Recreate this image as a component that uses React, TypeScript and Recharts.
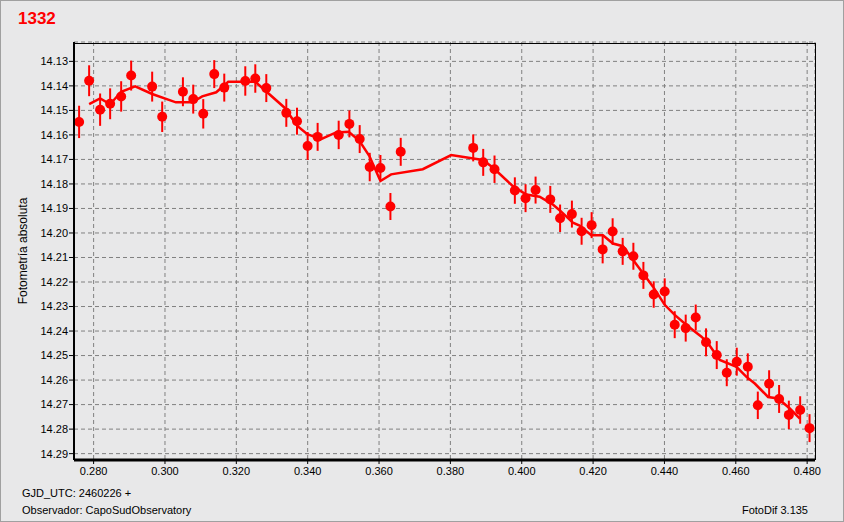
import {
  ComposedChart,
  Scatter,
  Line,
  XAxis,
  YAxis,
  CartesianGrid,
  ErrorBar,
} from "recharts";

// fotometria: tiempo (fraccion GJD), magnitud, error
const times = [
  0.27593, 0.27874, 0.28182, 0.28463, 0.28772, 0.29052, 0.29641, 0.29922,
  0.30503, 0.30792, 0.31073, 0.31381, 0.31662, 0.32251, 0.32532, 0.3284,
  0.33401, 0.33701, 0.33999, 0.34279, 0.34869, 0.35169, 0.35458, 0.35739,
  0.36039, 0.36319, 0.36608, 0.3864, 0.3892, 0.39237, 0.39807, 0.40107,
  0.40388, 0.408, 0.41075, 0.41406, 0.41678, 0.41959, 0.42268, 0.42548,
  0.42829, 0.43129, 0.4341, 0.43699, 0.44007, 0.44288, 0.44596, 0.44877,
  0.45166, 0.45466, 0.45747, 0.46027, 0.46336, 0.46617, 0.46934, 0.47214,
  0.47487, 0.47804, 0.48067,
];

const mags = [
  14.1547, 14.1379, 14.1497, 14.1473, 14.1443, 14.1358, 14.1403, 14.1526,
  14.1424, 14.1454, 14.1514, 14.1352, 14.1407, 14.138, 14.137, 14.1409,
  14.151, 14.1544, 14.1645, 14.1608, 14.16, 14.1555, 14.1617, 14.1731,
  14.1735, 14.1892, 14.1669, 14.1653, 14.1712, 14.174, 14.1827, 14.1858,
  14.1825, 14.1863, 14.194, 14.1923, 14.1993, 14.1968, 14.2067, 14.1994,
  14.2075, 14.2095, 14.2173, 14.2251, 14.2239, 14.2374, 14.2388, 14.2345,
  14.2446, 14.2498, 14.257, 14.2525, 14.2546, 14.2703, 14.2615, 14.2677,
  14.2742, 14.2722, 14.2796,
];

const errors = [
  0.0066, 0.0063, 0.0066, 0.0063, 0.0062, 0.0061, 0.0061, 0.0062, 0.0059,
  0.0059, 0.006, 0.0057, 0.0057, 0.006, 0.0058, 0.0057, 0.0057, 0.0055,
  0.0057, 0.0057, 0.0058, 0.0055, 0.0057, 0.0058, 0.0053, 0.0055, 0.0057,
  0.0055, 0.0055, 0.0056, 0.0054, 0.0057, 0.0055, 0.0055, 0.0056, 0.0055,
  0.0055, 0.0053, 0.0057, 0.0054, 0.0055, 0.0055, 0.0055, 0.0054, 0.0054,
  0.0055, 0.0055, 0.0053, 0.0057, 0.0057, 0.0055, 0.0057, 0.0055, 0.0056,
  0.0055, 0.0057, 0.0058, 0.0056, 0.0057,
];

// curva suavizada
const smoothTimes = [
  0.27874, 0.28182, 0.28463, 0.28772, 0.29164, 0.29641, 0.30306, 0.30764,
  0.31044, 0.31437, 0.31774, 0.32532, 0.33345, 0.3371, 0.3399, 0.34375,
  0.34796, 0.35149, 0.35449, 0.3573, 0.36039, 0.36339, 0.37226, 0.38022,
  0.38909, 0.3919, 0.39751, 0.40127, 0.405, 0.40873, 0.41061, 0.41434,
  0.41622, 0.4195, 0.42276, 0.42556, 0.42837, 0.43118, 0.43679, 0.44007,
  0.44288, 0.44616, 0.45037, 0.45222, 0.4555, 0.46019, 0.46299, 0.46532,
  0.46905, 0.47186, 0.47514, 0.47795,
];

const smoothMags = [
  14.1474, 14.1451, 14.1475, 14.1424, 14.1402, 14.1433, 14.1467, 14.1467,
  14.1443, 14.1426, 14.1383, 14.1383, 14.1488, 14.1563, 14.1597, 14.1617,
  14.159, 14.1587, 14.1624, 14.1686, 14.1788, 14.1761, 14.174, 14.1682,
  14.1702, 14.1733, 14.1809, 14.1843, 14.1852, 14.1884, 14.1907, 14.1958,
  14.197, 14.2009, 14.2009, 14.2043, 14.2054, 14.2109, 14.2219, 14.2293,
  14.2334, 14.2375, 14.2423, 14.245, 14.2518, 14.2546, 14.2587, 14.2614,
  14.2669, 14.2675, 14.2716, 14.2757,
];

const xTicks = [0.28, 0.3, 0.32, 0.34, 0.36, 0.38, 0.4, 0.42, 0.44, 0.46, 0.48];
const xMinorTicks = [
  0.275, 0.285, 0.29, 0.295, 0.305, 0.31, 0.315, 0.325, 0.33, 0.335, 0.345,
  0.35, 0.355, 0.365, 0.37, 0.375, 0.385, 0.39, 0.395, 0.405, 0.41, 0.415,
  0.425, 0.43, 0.435, 0.445, 0.45, 0.455, 0.465, 0.47, 0.475,
];
const yTicks = [
  14.13, 14.14, 14.15, 14.16, 14.17, 14.18, 14.19, 14.2, 14.21, 14.22, 14.23,
  14.24, 14.25, 14.26, 14.27, 14.28, 14.29,
];

const points = times.map((x, i) => ({ x, y: mags[i], err: errors[i] }));
const smooth = smoothTimes.map((x, i) => ({ x, y: smoothMags[i] }));

const FONT = "'Liberation Sans', Arial, sans-serif";
const RED = "#ff0000";
const X_DOMAIN: [number, number] = [0.2745, 0.4822];

const Dot = (props: any) => {
  const { cx, cy } = props;
  if (cx == null || cy == null) return null;
  return <circle cx={cx} cy={cy} r={5} fill={RED} />;
};

export default function App() {
  return (
    <div
      style={{
        position: "absolute",
        left: 0,
        top: 0,
        width: 844,
        height: 522,
        background: "#e8e8e9",
        boxSizing: "border-box",
        border: "1px solid #a0a0a0",
        fontFamily: FONT,
        overflow: "hidden",
      }}
    >
      <ComposedChart
        width={844}
        height={522}
        margin={{ top: 42, right: 29, bottom: 32, left: -1 }}
        style={{ position: "absolute", left: -1, top: -1 }}
      >
        <CartesianGrid
          xAxisId="main"
          yAxisId="main"
          stroke="#808080"
          strokeDasharray="4 3"
          strokeWidth={1}
        />
        <XAxis
          xAxisId="minor"
          type="number"
          dataKey="x"
          domain={X_DOMAIN}
          allowDataOverflow
          ticks={xMinorTicks}
          tick={false}
          tickSize={4}
          tickLine={{ stroke: "#000" }}
          axisLine={false}
          height={0}
        />
        <XAxis
          xAxisId="main"
          type="number"
          dataKey="x"
          domain={X_DOMAIN}
          allowDataOverflow
          ticks={xTicks}
          tickFormatter={(v: number) => v.toFixed(3)}
          tick={{ fontSize: 11, fill: "#000", fontFamily: FONT }}
          tickSize={4}
          tickMargin={3}
          tickLine={{ stroke: "#000" }}
          axisLine={{ stroke: "#000", strokeWidth: 3 }}
          height={30}
        />
        <YAxis
          yAxisId="main"
          type="number"
          reversed
          domain={[14.1221, 14.2926]}
          allowDataOverflow
          ticks={yTicks}
          tickFormatter={(v: number) => v.toFixed(2)}
          tick={{ fontSize: 11, fill: "#000", fontFamily: FONT }}
          tickSize={5}
          tickMargin={1}
          tickLine={{ stroke: "#000" }}
          axisLine={{ stroke: "#000", strokeWidth: 2 }}
          width={75}
        />
        <Scatter
          xAxisId="main"
          yAxisId="main"
          data={points}
          dataKey="y"
          fill={RED}
          shape={<Dot />}
          isAnimationActive={false}
        >
          <ErrorBar
            dataKey="err"
            direction="y"
            width={0}
            stroke={RED}
            strokeWidth={2}
            isAnimationActive={false}
          />
        </Scatter>
        <Line
          xAxisId="main"
          yAxisId="main"
          data={smooth}
          dataKey="y"
          type="linear"
          stroke={RED}
          strokeWidth={2.5}
          dot={false}
          activeDot={false}
          isAnimationActive={false}
        />
      </ComposedChart>

      {/* marco del area de grafico */}
      <div
        style={{
          position: "absolute",
          left: 73,
          top: 42,
          width: 742,
          height: 417,
          border: "1px solid #000",
          boxSizing: "border-box",
          pointerEvents: "none",
        }}
      />

      <div
        style={{
          position: "absolute",
          left: 17,
          top: 8,
          color: RED,
          fontWeight: "bold",
          fontSize: 17,
        }}
      >
        1332
      </div>

      <div
        style={{
          position: "absolute",
          left: 22,
          top: 250,
          fontSize: 12,
          color: "#000",
          whiteSpace: "nowrap",
          transform: "translate(-50%, -50%) rotate(-90deg)",
        }}
      >
        Fotometría absoluta
      </div>

      <div
        style={{
          position: "absolute",
          left: 21,
          top: 486,
          fontSize: 11,
          color: "#000",
        }}
      >
        GJD_UTC: 2460226 +
      </div>
      <div
        style={{
          position: "absolute",
          left: 21,
          top: 503,
          fontSize: 11,
          color: "#000",
        }}
      >
        Observador: CapoSudObservatory
      </div>
      <div
        style={{
          position: "absolute",
          right: 35,
          top: 503,
          fontSize: 11,
          color: "#000",
        }}
      >
        FotoDif 3.135
      </div>
    </div>
  );
}
